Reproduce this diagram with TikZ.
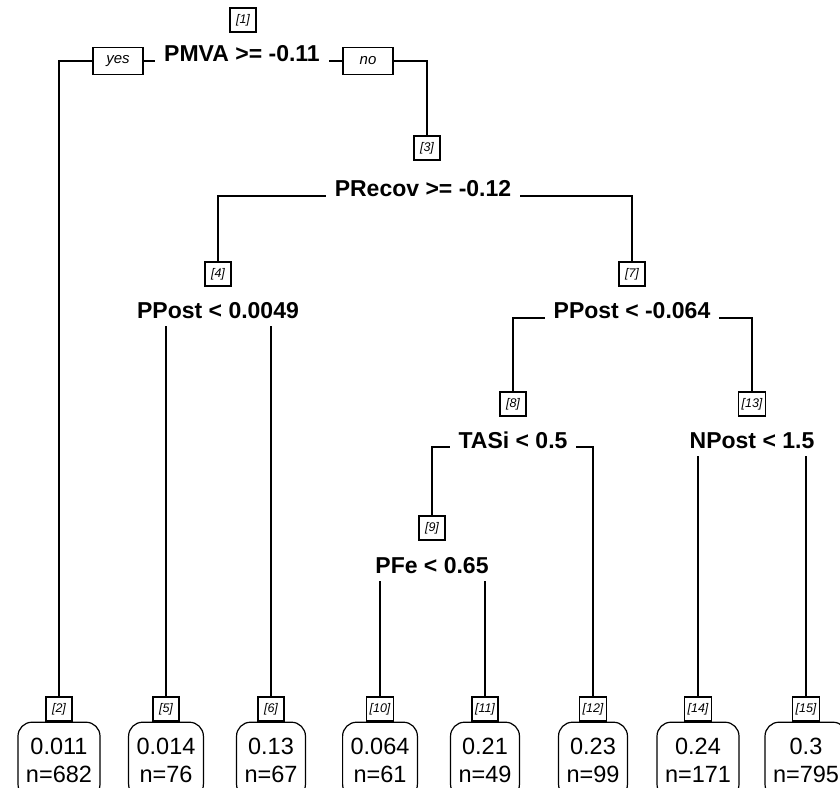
\documentclass[tikz,border=0pt]{standalone}
\usepackage{fontspec}
\setmainfont{Liberation Sans}
\usetikzlibrary{backgrounds}
\begin{document}
\begin{tikzpicture}[x=1pt,y=-1pt,
  splitlbl/.style={fill=white,font=\fontsize{23}{26}\selectfont\bfseries,inner xsep=9pt,inner ysep=7pt,text height=17pt,text depth=0pt},
  numbox/.style={draw,fill=white,line width=1.2pt,font=\fontsize{12.5}{13}\selectfont\itshape,minimum width=26pt,minimum height=24pt,inner xsep=3pt,inner ysep=1pt},
  yesno/.style={draw,fill=white,line width=1.2pt,font=\fontsize{15}{16}\selectfont\itshape,minimum width=50pt,minimum height=27pt,inner sep=1pt},
  leafbox/.style={draw,fill=white,line width=1.2pt,rounded corners=14pt,align=center,anchor=north,font=\fontsize{23.5}{28}\selectfont,inner xsep=8pt,inner ysep=2pt,minimum height=76pt},
  edge/.style={line width=1.2pt}]
\useasboundingbox (0,0) rectangle (840,787);

% internal nodes
\node[numbox] (b1) at (243,20) {[1]};
\node[splitlbl] (s1) at (242,53) {PMVA >= -0.11};
\coordinate (j1) at (242,61);
\node[yesno] (yes) at (118,61) {yes};
\node[yesno] (no) at (368,61) {no};

\node[numbox] (b3) at (427,148) {[3]};
\node[splitlbl] (s3) at (423,188) {PRecov >= -0.12};
\coordinate (j3) at (423,196);

\node[numbox] (b4) at (218,274) {[4]};
\node[splitlbl] (s4) at (218,310) {PPost < 0.0049};
\coordinate (j4) at (218,318);

\node[numbox] (b7) at (632,274) {[7]};
\node[splitlbl] (s7) at (632,310) {PPost < -0.064};
\coordinate (j7) at (632,318);

\node[numbox] (b8) at (513,404) {[8]};
\node[splitlbl] (s8) at (513,440) {TASi < 0.5};
\coordinate (j8) at (513,447);

\node[numbox] (b13) at (752,404) {[13]};
\node[splitlbl] (s13) at (752,440) {NPost < 1.5};
\coordinate (j13) at (752,447);

\node[numbox] (b9) at (432,528) {[9]};
\node[splitlbl] (s9) at (432,565) {PFe < 0.65};
\coordinate (j9) at (432,573);

% leaves
\foreach \id/\x/\v/\n in {2/59/0.011/682, 5/166/0.014/76, 6/271/0.13/67, 10/380/0.064/61, 11/485/0.21/49, 12/593/0.23/99, 14/698/0.24/171, 15/806/0.3/795}{
  \node[numbox] (b\id) at (\x,709) {[\id]};
  \node[leafbox] (l\id) at (b\id.south) {\v\\n=\n};
}

\begin{pgfonlayer}{background}
\draw[edge] (j1) -| (b2.north);
\draw[edge] (j1) -| (b3.north);
\draw[edge] (j3) -| (b4.north);
\draw[edge] (j3) -| (b7.north);
\draw[edge] (j4) -| (b5.north);
\draw[edge] (j4) -| (b6.north);
\draw[edge] (j7) -| (b8.north);
\draw[edge] (j7) -| (b13.north);
\draw[edge] (j8) -| (b9.north);
\draw[edge] (j8) -| (b12.north);
\draw[edge] (j13) -| (b14.north);
\draw[edge] (j13) -| (b15.north);
\draw[edge] (j9) -| (b10.north);
\draw[edge] (j9) -| (b11.north);
\end{pgfonlayer}
\end{tikzpicture}
\end{document}
